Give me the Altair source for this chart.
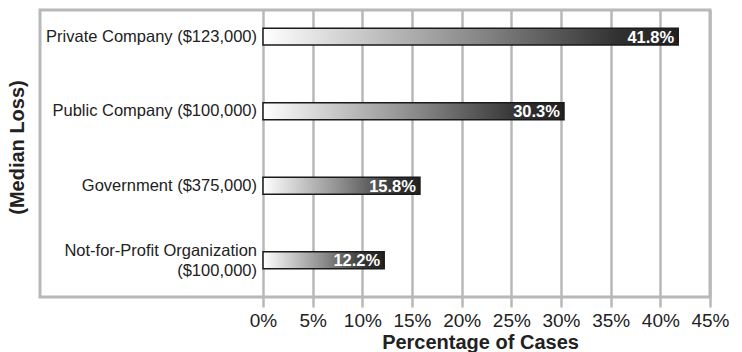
import altair as alt
import pandas as pd

labels = [
    "Private Company ($123,000)",
    "Public Company ($100,000)",
    "Government ($375,000)",
    "Not-for-Profit Organization\n($100,000)",
]
keys = ["Private", "Public", "Government", "NFP"]
values = [41.8, 30.3, 15.8, 12.2]
value_text = ["41.8%", "30.3%", "15.8%", "12.2%"]
tick_values = [0, 5, 10, 15, 20, 25, 30, 35, 40, 45]

df = pd.DataFrame({"key": keys, "label": labels, "value": values, "vtext": value_text})

FONT = "Liberation Sans"
GRID = "#b8b8b8"

xscale = alt.Scale(domain=[-22.45, 45], nice=False, zero=False)
yscale = alt.Scale(domain=keys, paddingInner=0.772, paddingOuter=0.312, align=0.39)

x_axis = alt.Axis(
    values=tick_values,
    labelExpr="datum.value + '%'",
    grid=True,
    gridColor=GRID,
    gridWidth=2.5,
    domain=False,
    ticks=True,
    tickSize=10,
    tickColor=GRID,
    tickWidth=2.5,
    labelFont=FONT,
    labelFontSize=19,
    labelColor="#222222",
    labelPadding=4,
    labelFlush=False,
    labelOverlap=False,
    labelBound=False,
    title="Percentage of Cases",
    titleFont=FONT,
    titleFontSize=20,
    titleFontWeight="bold",
    titleColor="#222222",
    titleX=440,
    titleY=51,
    titleAlign="center",
    titleBaseline="alphabetic",
)

y_axis = alt.Axis(
    labels=False,
    ticks=False,
    domain=False,
    grid=False,
    title="(Median Loss)",
    titleFont=FONT,
    titleFontSize=20,
    titleFontWeight="bold",
    titleColor="#222222",
    titleAngle=270,
    titleX=-23,
    titleY=137,
    titleAlign="center",
    titleBaseline="middle",
)

gradient = alt.Gradient(
    gradient="linear",
    x1=0, y1=0, x2=1, y2=0,
    stops=[
        alt.GradientStop(color="#ffffff", offset=0),
        alt.GradientStop(color="#8c8c8c", offset=0.5),
        alt.GradientStop(color="#303030", offset=0.86),
        alt.GradientStop(color="#222222", offset=1),
    ],
)

base = alt.Chart(df)

bars = base.mark_bar(fill=gradient, stroke="#1a1a1a", strokeWidth=1.5).encode(
    x=alt.X("value:Q", scale=xscale, axis=x_axis),
    x2=alt.datum(0),
    y=alt.Y("key:N", scale=yscale, axis=y_axis, sort=None),
)

text_style = dict(align="right", baseline="middle", dx=-6, font=FONT, fontSize=16.5,
                  color="#222222", lineBreak="\n", lineHeight=20)

cat_single = base.transform_filter("indexof(datum.label, '\\n') < 0").mark_text(
    **text_style
).encode(
    x=alt.datum(0),
    y=alt.Y("key:N", sort=None),
    text="label:N",
)

cat_multi = base.transform_filter("indexof(datum.label, '\\n') >= 0").mark_text(
    dy=-9, **text_style
).encode(
    x=alt.datum(0),
    y=alt.Y("key:N", sort=None),
    text="label:N",
)

val_text = base.mark_text(
    align="right", baseline="middle", dx=-4, dy=1, font=FONT, fontSize=16.5,
    fontWeight="bold", color="#ffffff",
).encode(
    x="value:Q",
    y=alt.Y("key:N", sort=None),
    text="vtext:N",
)

chart = (
    alt.layer(bars, cat_single, cat_multi, val_text)
    .properties(
        width=670,
        height=287,
        autosize=alt.AutoSizeParams(type="none"),
        padding={"left": 40, "top": 10, "right": 32, "bottom": 55},
        background="#ffffff",
    )
    .configure_view(stroke=GRID, strokeWidth=3)
)

chart.save("out.html", embed_options={"renderer": "svg", "actions": False})
